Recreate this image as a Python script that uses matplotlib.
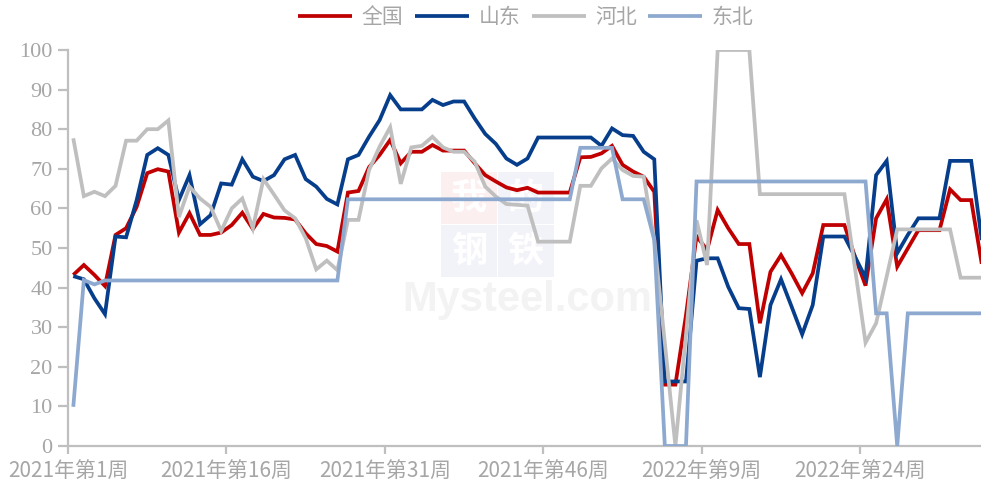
import matplotlib
matplotlib.use("Agg")
import matplotlib.pyplot as plt
from matplotlib.patches import Rectangle

# ---------------- data ----------------
series_names = ["全国", "山东", "河北", "东北"]

quanguo = [43.2, 45.7, 43.2, 40.4, 53.3, 55.0, 60.4, 68.9, 69.9, 69.3,
           53.9, 58.8, 53.3, 53.3, 53.9, 55.8, 58.9, 54.8, 58.6, 57.7,
           57.6, 57.2, 53.7, 51.0, 50.5, 49.1, 64.0, 64.4, 70.4, 73.5,
           77.3, 71.4, 74.3, 74.3, 76.0, 74.6, 74.6, 74.6, 71.4, 68.4,
           66.8, 65.3, 64.6, 65.2, 64.0, 64.0, 64.0, 64.0, 72.9, 73.0,
           73.9, 75.8, 71.0, 69.3, 68.0, 64.2, 15.5, 15.5, 33.0, 53.0,
           49.5, 59.6, 55.0, 51.0, 51.0, 31.0, 44.0, 48.2, 43.6, 38.6,
           43.6, 55.8, 55.8, 55.8, 47.8, 40.5, 57.5, 62.3, 45.3, 49.9,
           54.5, 54.5, 54.5, 64.8, 62.1, 62.1, 46.0]

shandong = [42.9, 42.1, 37.3, 33.3, 52.9, 52.7, 62.1, 73.5, 75.2, 73.5,
            62.1, 68.4, 56.0, 58.3, 66.3, 66.0, 72.4, 68.0, 66.9, 68.4,
            72.4, 73.5, 67.4, 65.5, 62.4, 61.0, 72.4, 73.5, 78.1, 82.3,
            88.6, 85.0, 85.0, 85.0, 87.4, 86.1, 87.0, 87.0, 82.7, 78.8,
            76.3, 72.6, 71.0, 72.6, 77.9, 77.9, 77.9, 77.9, 77.9, 77.9,
            75.8, 80.2, 78.5, 78.3, 74.3, 72.4, 16.3, 16.3, 16.3, 46.8,
            47.4, 47.4, 40.2, 34.8, 34.6, 17.4, 35.6, 42.1, 35.2, 28.2,
            35.6, 52.9, 52.9, 52.9, 47.8, 42.5, 68.4, 72.0, 48.7, 53.3,
            57.5, 57.5, 57.5, 72.0, 72.0, 72.0, 52.0]

hebei = [77.7, 63.1, 64.2, 63.1, 65.7, 77.1, 77.1, 80.0, 80.0, 82.2,
         57.8, 65.5, 62.5, 60.4, 54.3, 60.0, 62.5, 55.0, 67.4, 63.5,
         59.5, 57.5, 52.5, 44.6, 46.8, 44.4, 57.1, 57.1, 69.7, 75.6,
         80.5, 66.2, 75.4, 75.8, 78.1, 75.4, 74.3, 74.3, 71.8, 65.5,
         63.0, 61.1, 60.9, 60.7, 51.6, 51.6, 51.6, 51.6, 65.7, 65.7,
         70.1, 72.6, 69.7, 68.2, 68.0, 52.0, 26.0, 0.0, 28.0, 57.0,
         45.7, 100.0, 100.0, 100.0, 100.0, 63.6, 63.6, 63.6, 63.6, 63.6,
         63.6, 63.6, 63.6, 63.6, 44.9, 26.1, 31.0, 42.8, 54.7, 54.7,
         54.7, 54.7, 54.7, 54.7, 42.5, 42.5, 42.5]

dongbei = [9.9, 41.9, 40.8, 41.8, 41.8, 41.8, 41.8, 41.8, 41.8, 41.8,
           41.8, 41.8, 41.8, 41.8, 41.8, 41.8, 41.8, 41.8, 41.8, 41.8,
           41.8, 41.8, 41.8, 41.8, 41.8, 41.8, 62.3, 62.3, 62.3, 62.3,
           62.3, 62.3, 62.3, 62.3, 62.3, 62.3, 62.3, 62.3, 62.3, 62.3,
           62.3, 62.3, 62.3, 62.3, 62.3, 62.3, 62.3, 62.3, 75.3, 75.3,
           75.3, 75.3, 62.3, 62.3, 62.3, 52.0, 0.0, 0.0, 0.0, 66.8,
           66.8, 66.8, 66.8, 66.8, 66.8, 66.8, 66.8, 66.8, 66.8, 66.8,
           66.8, 66.8, 66.8, 66.8, 66.8, 66.8, 33.5, 33.5, 0.0, 33.5,
           33.5, 33.5, 33.5, 33.5, 33.5, 33.5, 33.5]

tick_labels = ["2021年第1周", "2021年第16周", "2021年第31周",
               "2021年第46周", "2022年第9周", "2022年第24周"]
tick_index = [0, 15, 30, 45, 60, 75]
y_ticks = [0, 10, 20, 30, 40, 50, 60, 70, 80, 90, 100]

colors = ["#C00000", "#073E8C", "#BFBFBF", "#8EA9CF"]

# ---------------- figure ----------------
fig = plt.figure(figsize=(9.81, 4.92), dpi=100)
ax = fig.add_axes([68 / 981, 1 - 446 / 492, 1 - 68 / 981, (446 - 50) / 492])

x = list(range(len(quanguo)))
all_series = [quanguo, shandong, hebei, dongbei]
for i, (name, vals, c) in enumerate(zip(series_names, all_series, colors)):
    ax.plot(x, vals, color=c, lw=2.7, label=name, zorder=3 + i,
            solid_joinstyle="miter", solid_capstyle="butt")

ax.set_xlim(-0.5, 85.93)
ax.set_ylim(0, 100)

grey = "#BFBFBF"
txt_grey = "#A6A6A6"
for s in ["top", "right"]:
    ax.spines[s].set_visible(False)
for s in ["left", "bottom"]:
    ax.spines[s].set_color(grey)
    ax.spines[s].set_linewidth(1.6)

ax.set_yticks(y_ticks)
ax.set_yticklabels([str(v) for v in y_ticks], family="Liberation Serif",
                   fontsize=16, color=txt_grey)
ax.tick_params(axis="y", length=7, width=1.6, color=grey, pad=4)

ax.set_xticks([t - 0.5 for t in tick_index])
ax.set_xticklabels(tick_labels, family=["Noto Sans CJK SC", "DejaVu Sans"],
                   fontsize=15, color=txt_grey)
ax.tick_params(axis="x", length=6, width=1.6, color=grey, pad=5)

# ---------------- watermark ----------------
def px2data(px, py):
    return (px - 73.6) / 10.56, (446 - py) / 3.96

bw, bh = 56 / 10.56, 52 / 3.96
boxes = [("我", 441, 224, "#FCEFF0"), ("的", 498, 224, "#F1F3F8"),
         ("钢", 441, 277, "#F1F3F8"), ("铁", 498, 277, "#F1F3F8")]
for ch, bx, by, fc in boxes:
    dx, dy = px2data(bx, by)
    ax.add_patch(Rectangle((dx, dy), bw, bh, facecolor=fc, edgecolor="none",
                           zorder=0.5))
    ax.text(dx + bw / 2, dy + bh / 2, ch, ha="center", va="center",
            fontsize=26, color="white", family=["Noto Sans CJK SC"],
            fontweight="bold", zorder=0.6)
mx, my = px2data(527, 300)
ax.text(mx, my, "Mysteel.com", ha="center", va="center", fontsize=30,
        fontweight="bold", color="#F3F3F3", family="Liberation Sans",
        zorder=0.4)

# ---------------- legend ----------------
leg = fig.legend(loc="center", bbox_to_anchor=(0.536, 0.965), ncol=4,
                 frameon=False, handlelength=2.6, handletextpad=0.45,
                 columnspacing=0.55,
                 prop={"family": ["Noto Sans CJK SC"], "size": 15})
for t in leg.get_texts():
    t.set_color(txt_grey)

fig.savefig("out.png", dpi=100)
